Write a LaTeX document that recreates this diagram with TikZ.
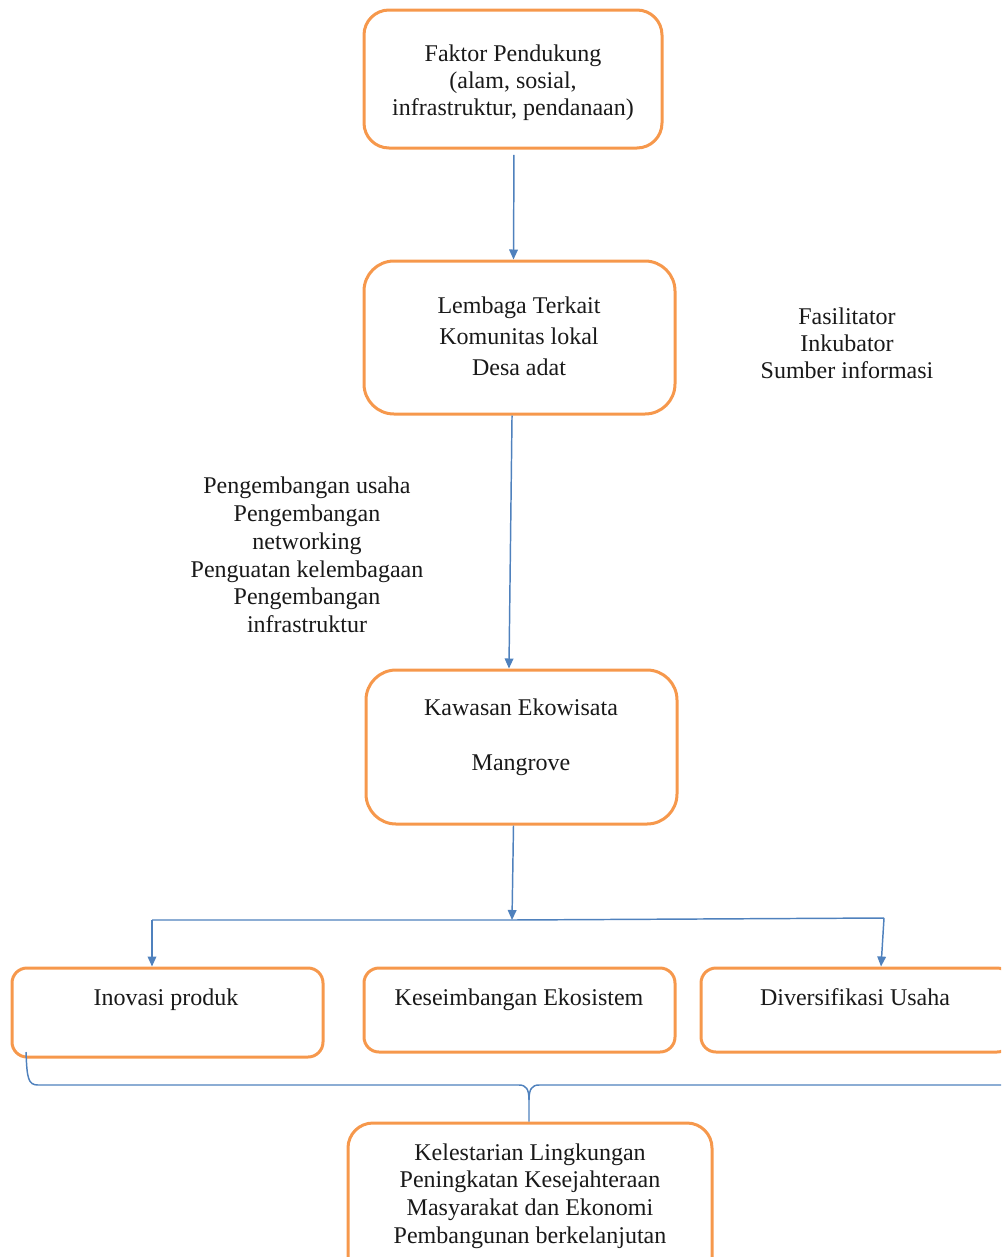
\documentclass[tikz,border=0pt]{standalone}
\usepackage{fontspec}
\setmainfont{Liberation Serif}
\usetikzlibrary{arrows.meta}
\definecolor{boxorange}{RGB}{246,152,76}
\definecolor{linkblue}{RGB}{79,129,189}
\tikzset{
  obox/.style={draw=boxorange, line width=2.25pt, rounded corners=#1, inner sep=0pt},
  obox/.default=22pt,
  txt/.style={align=center, inner sep=0pt, font=\fontsize{18}{20.25}\selectfont, text=black!90},
  arr/.style={draw=linkblue, line width=1.1pt, -{Triangle[length=7.5pt,width=6.5pt]}},
  ln/.style={draw=linkblue, line width=1.1pt}
}
\begin{document}
\begin{tikzpicture}[x=0.75pt,y=-0.75pt]
\useasboundingbox (0,0) rectangle (1001,1257);
\clip (0,0) rectangle (1001,1257);
% boxes
\node[obox=18.75pt, minimum width=223.5pt, minimum height=103.5pt] (f) at (513,79) {};
\node[obox=22.5pt, minimum width=233.25pt, minimum height=114.75pt] (l) at (519.5,337.5) {};
\node[obox=22.5pt, minimum width=233.25pt, minimum height=115.5pt] (k) at (521.5,747) {};
\node[obox=11.25pt, minimum width=233.25pt, minimum height=66.75pt] (i) at (167.5,1012.5) {};
\node[obox=11.25pt, minimum width=233.25pt, minimum height=63pt] (e) at (519.5,1010) {};
\node[obox=11.25pt, minimum width=233.25pt, minimum height=63pt] (d) at (856.5,1010) {};
\node[obox=18.75pt, minimum width=273pt, minimum height=120pt] (b) at (530,1203) {};
% texts
\node[txt] (ft) at (513,83) {Faktor Pendukung\\(alam, sosial,\\infrastruktur, pendanaan)};
\node[txt, font=\fontsize{18}{23.25}\selectfont] (lt) at (519,336) {Lembaga Terkait\\Komunitas lokal\\Desa adat};
\node[txt] (rt) at (847,343) {Fasilitator\\Inkubator\\Sumber informasi};
\node[txt, font=\fontsize{18}{20.8}\selectfont] (pt) at (307,555) {Pengembangan usaha\\Pengembangan\\networking\\Penguatan kelembagaan\\Pengembangan\\infrastruktur};
\node[txt] (kt) at (521,737.5) {Kawasan Ekowisata\\[21pt]Mangrove};
\node[txt] (it) at (166,1000) {Inovasi produk};
\node[txt] (et) at (519,1000) {Keseimbangan Ekosistem};
\node[txt] (dt) at (855,997) {Diversifikasi Usaha};
\node[txt, font=\fontsize{18}{20.8}\selectfont] (bt) at (530,1196) {Kelestarian Lingkungan\\Peningkatan Kesejahteraan\\Masyarakat dan Ekonomi\\Pembangunan berkelanjutan};
% connectors
\draw[arr, shorten <=4pt] ([xshift=0.75pt]f.south) -- ([xshift=-4.5pt]l.north);
\draw[arr] ([xshift=-5.6pt]l.south) -- ([xshift=-9.4pt]k.north);
\coordinate (busL) at (152,920);
\coordinate (busM) at (512,920);
\coordinate (busR) at (884,918);
\draw[ln] (busL) -- (busM) -- (busR);
\draw[arr] ([xshift=-6pt]k.south) -- (busM);
\draw[arr] (busL) -- (busL |- i.north);
\draw[arr] (busR) -- ([xshift=18.4pt]d.north);
% brace
\coordinate (brS) at (26,1052);
\coordinate (brE) at (1010,1085);
\draw[ln] (brS) .. controls (27,1078) and (28,1085) .. (38,1085) -- (519,1085)
  .. controls (526,1085) and (529,1089) .. (529,1100) -- ([xshift=-0.75pt]b.north);
\draw[ln] (brE) -- (539,1085) .. controls (532,1085) and (529,1089) .. (529,1100);
\end{tikzpicture}
\end{document}
